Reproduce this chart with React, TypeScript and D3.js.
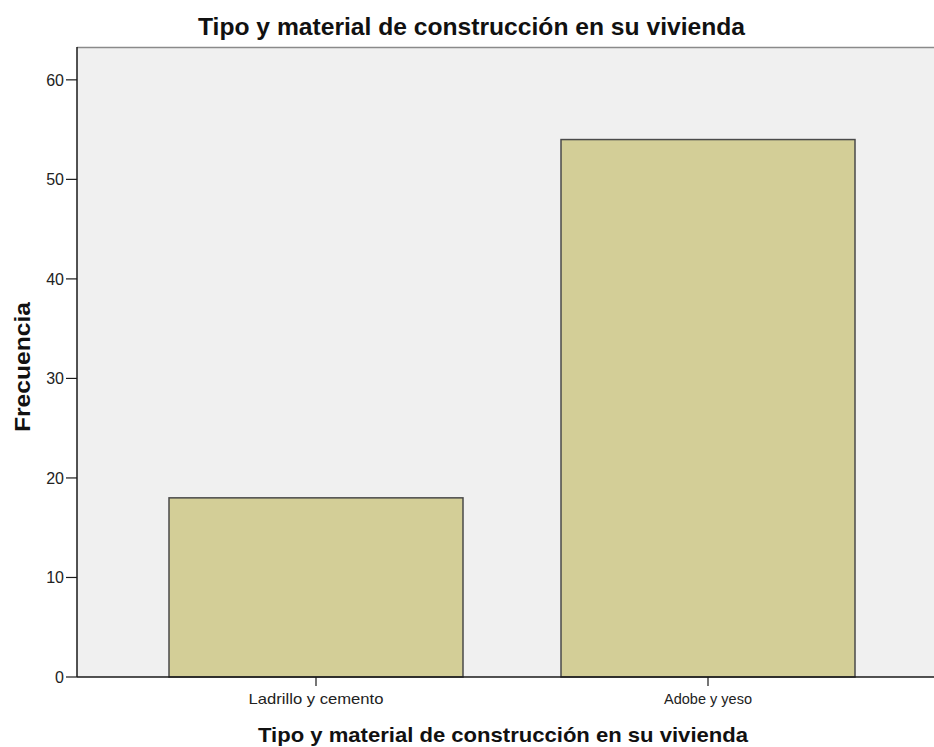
import React from "react";
import * as d3 from "d3";

const categories = ["Ladrillo y cemento", "Adobe y yeso"];
const values = [18, 54];
const yTicks = [0, 10, 20, 30, 40, 50, 60];
const title = "Tipo y material de construcción en su vivienda";
const xLabel = "Tipo y material de construcción en su vivienda";
const yLabel = "Frecuencia";

export default function App() {
  const W = 934, H = 747;
  const left = 77, top = 47, right = 934, bottom = 677;
  const y = d3.scaleLinear().domain([0, 63.3]).range([bottom, top]);
  const x = d3.scaleBand().domain(categories).range([120, 904]).paddingInner(0.25).paddingOuter(0.125);
  const font = "Arial, 'Liberation Sans', sans-serif";
  const catLen = [135, 88];
  return (
    <svg width={W} height={H} style={{ position: "absolute", left: 0, top: 0 }}>
      <rect x={0} y={0} width={W} height={H} fill="#ffffff" />
      <rect x={left} y={top} width={right - left} height={bottom - top} fill="#f0f0f0" />
      <line x1={left} x2={right} y1={top + 0.5} y2={top + 0.5} stroke="#8a8a8a" strokeWidth={1.5} />
      {categories.map((c, i) => (
        <rect key={c} x={x(c)!} y={y(values[i])} width={x.bandwidth()} height={bottom - y(values[i])}
          fill="#d3ce97" stroke="#4a4a4a" strokeWidth={1.5} />
      ))}
      <line x1={left} x2={left} y1={top} y2={bottom} stroke="#1a1a1a" strokeWidth={1.5} />
      <line x1={left} x2={right} y1={bottom} y2={bottom} stroke="#1a1a1a" strokeWidth={1.5} />
      {yTicks.map(t => (
        <g key={t}>
          <line x1={left - 11} x2={left} y1={y(t)} y2={y(t)} stroke="#1a1a1a" strokeWidth={1.2} />
          <text x={left - 13} y={y(t)} dy="0.36em" textAnchor="end" fontFamily={font} fontSize={16} fill="#222">{t}</text>
        </g>
      ))}
      {categories.map((c, i) => {
        const cx = x(c)! + x.bandwidth() / 2;
        return (
          <g key={c}>
            <line x1={cx} x2={cx} y1={bottom} y2={bottom + 9} stroke="#1a1a1a" strokeWidth={1.2} />
            <text x={cx} y={bottom + 27} textAnchor="middle" fontFamily={font} fontSize={15} fill="#222"
              textLength={catLen[i]} lengthAdjust="spacingAndGlyphs">{c}</text>
          </g>
        );
      })}
      <text x={471.5} y={35} textAnchor="middle" fontFamily={font} fontSize={24} fontWeight="bold" fill="#111"
        textLength={547} lengthAdjust="spacingAndGlyphs">{title}</text>
      <text x={503} y={742} textAnchor="middle" fontFamily={font} fontSize={21} fontWeight="bold" fill="#111"
        textLength={490} lengthAdjust="spacingAndGlyphs">{xLabel}</text>
      <text transform={`translate(30,${367}) rotate(-90)`} textAnchor="middle" fontFamily={font} fontSize={22} fontWeight="bold" fill="#111"
        textLength={130} lengthAdjust="spacingAndGlyphs">{yLabel}</text>
    </svg>
  );
}
